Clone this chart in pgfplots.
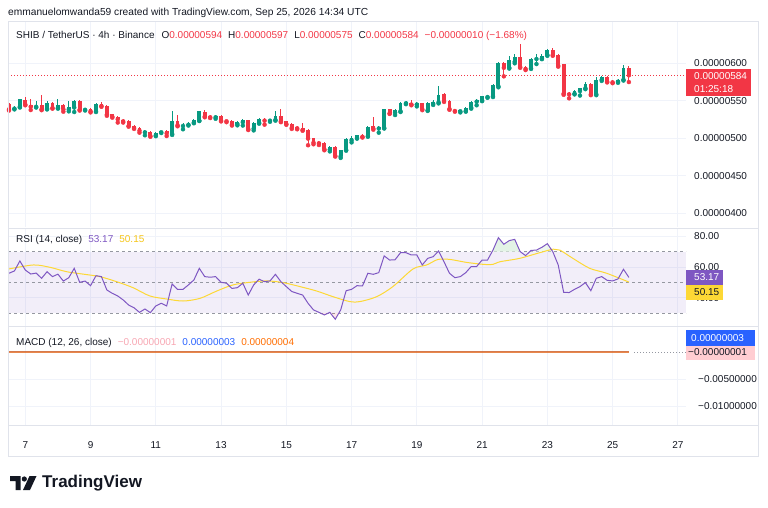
\documentclass[border=0pt]{standalone}
\usepackage{fontspec}
\setmainfont{Liberation Sans}
\usepackage{pgfplots}
\pgfplotsset{compat=1.18}
\usepackage{pgfplotstable}

\definecolor{cred}{HTML}{F23645}
\definecolor{cgreen}{HTML}{089981}
\definecolor{cpurple}{HTML}{7E57C2}
\definecolor{cyellow}{HTML}{FDD835}
\definecolor{cyellowtxt}{HTML}{F5C518}
\definecolor{ctext}{HTML}{131722}
\definecolor{cgrid}{HTML}{F0F3FA}
\definecolor{cborder}{HTML}{E0E3EB}
\definecolor{cblue}{HTML}{2962FF}
\definecolor{corange}{HTML}{FF6D00}
\definecolor{cpink}{HTML}{FFCDD2}
\definecolor{cpinktxt}{HTML}{F7A6B2}
\definecolor{cdash}{HTML}{9598A1}
\definecolor{cgreenfill}{HTML}{E3F3E6}

% candles: i open high low close (price in units of 0.00000001)
\pgfplotstableread{
i o h l c
1 539.5 543 538.5 542
2 542 553 541 552
5 542 549.3 541 543.3
7 539.5 549.3 538.5 546.6
9 540.4 552 539.5 544
11 538.6 550.1 535.9 542
12 541 551 535 550
14 538 541 537 539.5
16 536 547 535 545.7
25 508 510.5 504 509.5
27 503.9 508.5 502.8 507.5
28 508 510 507 509.3
30 505.7 535.9 504.5 522.6
32 516.4 520 512 518
33 518 522 517 520.8
34 521 525.5 520 524.4
35 523.5 537 523 535.9
38 528 531 526 529.7
42 519 522.5 517.3 521.8
43 521.5 525.5 517 524.4
45 512.9 522 510.5 520.9
46 520.5 527 519.5 526.2
48 523.5 525 522 524.8
49 524.4 536 523.5 529.8
59 485 490 482.5 489
61 476 485 473.8 484.4
62 484.4 500 483.5 498.7
63 497.5 503 494.5 500.5
64 500.5 505 499.5 504
66 503 516.5 502 515.5
68 513 516.5 507.5 515.5
69 513.8 539.5 513 538.7
71 534 539.5 531 538
72 536 548.5 535 546.7
73 546.7 550 545.5 548
75 545 548.5 542.5 546.7
77 537.3 548 536.5 547
78 546 550.5 544.5 548.8
79 548 569.3 546.5 557.7
83 536 538 534.5 537.3
84 536.4 542 535.5 540.8
85 540.8 550 539.5 548.8
86 548.8 552 544 550.6
87 550.6 557 549.5 556
88 555 558 554 556.8
89 556 572 555 571
90 569.3 601.5 568 600.4
92 594 610 593 604.8
93 602.1 612 600 608.4
96 593.3 607 592.5 605.7
97 605.7 612 599 607
98 606.6 613 605.5 610
99 611 619.5 610 618.2
104 559.5 564 558.5 563
105 563 567.5 557 566.6
106 566.6 575 565.5 572.8
108 558.6 582 557.5 578
109 578 583 576.5 581.7
112 575.5 579 574 578
113 578 597.3 577 593.3
}\greenC

\pgfplotstableread{
i o h l c
0 545.7 547 537 538.6
3 551 555.5 544 545
4 545 551.9 537.7 542
6 544 557.3 537.5 538.6
8 546.6 548 539.5 540.4
10 544 545.5 535.5 538.6
13 550 551 537 538
15 539.5 541 534.5 536
17 545.7 548 542 543
18 543 544 530 531.5
19 532 533 527.5 528.8
20 528.8 529.5 521 525.3
21 524.3 525.5 521 522.6
22 522.6 524 515.5 516.4
23 517 518 512.5 513.7
24 514 515 507.5 510.2
26 508.4 509.5 502 503
29 510 511 503 506.6
31 522.6 531.5 516 517.3
36 535 537.5 528 529
37 529.7 530.5 527 528
39 529.7 531 522.5 523.5
40 524.4 525 521.5 522.7
41 523.5 524.5 517 518.2
44 524.4 525 511 512
47 526.2 527 518.2 523.5
50 529.8 539.5 521.5 522.7
51 522.7 523.5 518 519
52 519 520 512.5 513.8
53 515 516 512 513.3
54 513.8 520.9 510 511
55 511 512 490.7 499.6
56 500 501 492 494.2
57 495 496.5 491 493.3
58 493.3 494.5 484 485.3
60 489 490 475.6 476.5
65 505 506 501 502
67 516.5 528.9 511.5 512.9
70 538.7 539.5 532.5 533.3
74 547.6 550.5 544 545
76 546.7 547.5 537.5 538.7
80 558.6 560 548.5 549.7
81 549.7 550.5 538 539
82 538 539 535.5 536.4
91 601 602 582.6 594
94 608.4 626.1 594 595
95 595 596 591 592.4
100 618.2 620 610 611
101 611 612 595.5 596.8
102 598.6 599.5 558 559.5
103 561 562 553.3 558.6
107 572.8 574 557.5 558.6
110 581.7 583 574.5 575.5
111 577 578 573.5 574.6
114 594 597 575 584
}\redC

\pgfplotstableread{
i r
0 55.9
1 57.4
2 63.9
3 58
4 55.4
5 56
6 52.6
7 56.9
8 53.7
9 55.3
10 50.8
11 53
12 59.1
13 50
14 50.8
15 47.8
16 54.3
17 53.7
18 45
19 42.8
20 41.1
21 38.5
22 35.2
23 33.4
24 30.4
25 32.6
26 30.2
27 34.6
28 36.3
29 34.6
30 48.9
31 45.4
32 45.4
33 48.3
34 51.5
35 59.1
36 53.7
37 53.3
38 53.7
39 50
40 49.4
41 46
42 46.5
43 49.4
44 41.7
45 48.3
46 52
47 50.4
48 50.9
49 55.2
50 50.4
51 47.2
52 44
53 42.8
54 41.7
55 36.3
56 32
57 30.4
58 28.7
59 30.4
60 25.9
61 32
62 44.5
63 45.4
64 47.8
65 47.6
66 55.9
67 55.2
68 56.3
69 67.2
70 64.5
71 64.7
72 69.3
73 69.3
74 67.8
75 67.8
76 61.3
77 65.6
78 66.7
79 70.4
80 63.4
81 55.9
82 53
83 53.7
84 56.3
85 60.3
86 60.3
87 64.5
88 64.5
89 71
90 79.1
91 74.8
92 77.2
93 78
94 70
95 67.4
96 70.8
97 71
98 72.8
99 75.2
100 70
101 61.3
102 43.5
103 43.3
104 45.4
105 47.2
106 49.8
107 44.5
108 52.6
109 53.7
110 51.3
111 50.9
112 52.2
113 58.5
114 53.17
}\rsiT

\pgfplotstableread{
i m
0 58.7
4.5 61.3
7.5 59.8
10.6 56.9
13.7 55.3
16.7 53.7
19.8 50.4
22.8 46.5
25.9 41.1
29 39.1
32 37.8
35.1 39.5
38.2 44.3
41.2 48.3
44.3 50
47.4 50.9
50.4 49.8
53.5 47.2
56.6 44.3
59.6 40.6
62.7 37.4
64.5 37.4
67.6 40.6
70.6 47.2
74.3 58.7
76.8 61.3
78.9 64.9
81.1 64.9
84.1 63
87.2 61.7
89 61.7
90.3 63.4
93.9 65.6
97.6 69.3
100.1 71.6
101.3 71
103.7 65.6
106.8 59.1
109.9 55.9
114 50.15
}\maT

\pgfplotsset{
  pane/.style={
    anchor=north west, scale only axis, width=678bp,
    xmin=-0.18, xmax=124.5,
    xtick={3,15,27,39,51,63,75,87,99,111,123},
    xmajorgrids, ymajorgrids,
    major grid style={draw=cgrid, line width=0.8bp},
    axis line style={draw=none},
    major tick length=0pt,
    yticklabel pos=right,
    yticklabel style={anchor=west, inner sep=0pt, xshift=8bp,
      font=\fontsize{10bp}{12bp}\selectfont, text=ctext},
    scaled y ticks=false,
  },
  candlewick/.style={only marks, mark=none, forget plot,
    error bars/.cd, y dir=plus, y explicit, error mark=none,
    error bar style={line width=0.9bp}},
  candlebody/.style={only marks, mark=none, forget plot,
    error bars/.cd, y dir=plus, y explicit, error mark=none,
    error bar style={line width=3.8bp}},
}

\begin{document}
\begin{tikzpicture}
\useasboundingbox (0,0) rectangle (768bp,-508bp);

% header
\node[anchor=west, inner sep=0pt, text=ctext, font=\fontsize{10.2bp}{12bp}\selectfont]
  at (8bp,-13.3bp) {emmanuelomwanda59 created with TradingView.com, Sep 25, 2026 14:34 UTC};

% ---------- price pane ----------
\begin{axis}[pane, at={(8bp,-21bp)}, height=206bp,
  ymin=381.7, ymax=656.4,
  ytick={400,450,500,550,600},
  yticklabels={0.00000400,0.00000450,0.00000500,0.00000550,0.00000600},
  xticklabels={}]
\draw[cred, line width=0.8bp, dash pattern=on 1bp off 2bp]
  (axis cs:-0.18,584) -- (axis cs:124.5,584);
\addplot[cgreen, candlewick] table[x=i, y=l, y error plus expr=\thisrow{h}-\thisrow{l}] {\greenC};
\addplot[cred, candlewick] table[x=i, y=l, y error plus expr=\thisrow{h}-\thisrow{l}] {\redC};
\addplot[cgreen, candlebody] table[x=i, y=o, y error plus expr=\thisrow{c}-\thisrow{o}] {\greenC};
\addplot[cred, candlebody] table[x=i, y=c, y error plus expr=\thisrow{o}-\thisrow{c}] {\redC};
\end{axis}

\node[anchor=west, inner sep=0pt, text=ctext, font=\fontsize{10bp}{12bp}\selectfont]
  at (16bp,-35.7bp) {SHIB / TetherUS · 4h · Binance\hspace{7bp}O\textcolor{cred}{0.00000594}\hspace{6bp}H\textcolor{cred}{0.00000597}\hspace{6bp}L\textcolor{cred}{0.00000575}\hspace{6bp}C\textcolor{cred}{0.00000584}\hspace{6bp}\textcolor{cred}{−0.00000010 (−1.68\%)}};

\fill[cred] (686bp,-69bp) rectangle (751bp,-96bp);
\node[anchor=west, inner sep=0pt, text=white, font=\fontsize{10bp}{12bp}\selectfont] at (694bp,-76bp) {0.00000584};
\node[anchor=west, inner sep=0pt, text=white, font=\fontsize{10bp}{12bp}\selectfont] at (694bp,-89bp) {01:25:18};

% ---------- RSI pane ----------
\begin{axis}[pane, at={(8bp,-228bp)}, height=98bp,
  ymin=21.5, ymax=85.4,
  ytick={40,60,80}, yticklabels={40.00,60.00,80.00},
  xticklabels={}]
\fill[cpurple, fill opacity=0.1] (axis cs:-0.18,30) rectangle (axis cs:124.5,70);
\draw[cdash, line width=0.8bp, dash pattern=on 3bp off 3bp] (axis cs:-0.18,70) -- (axis cs:124.5,70);
\draw[cdash, line width=0.8bp, dash pattern=on 3bp off 3bp] (axis cs:-0.18,50) -- (axis cs:124.5,50);
\draw[cdash, line width=0.8bp, dash pattern=on 3bp off 3bp] (axis cs:-0.18,30) -- (axis cs:124.5,30);
\addplot[fill=cgreenfill, draw=none, forget plot] coordinates {(88.85,70) (89,71) (90,79.1) (91,74.8) (92,77.2) (93,78) (94,70)};
\addplot[fill=cgreenfill, draw=none, forget plot, fill opacity=0.6] coordinates {(95.77,70) (96,70.8) (97,71) (98,72.8) (99,75.2) (100,70)};
\addplot[fill=cred, fill opacity=0.12, draw=none, forget plot] coordinates {(57.24,30) (58,28.7) (58.76,30)};
\addplot[fill=cred, fill opacity=0.12, draw=none, forget plot] coordinates {(59.09,30) (60,25.9) (60.67,30)};
\addplot[cyellow, line width=1bp, smooth] table[x=i, y=m] {\maT};
\addplot[cpurple, line width=1bp] table[x=i, y=r] {\rsiT};
\end{axis}

\node[anchor=west, inner sep=0pt, text=ctext, font=\fontsize{10bp}{12bp}\selectfont]
  at (16bp,-240bp) {RSI (14, close)\hspace{6bp}\textcolor{cpurple}{53.17}\hspace{6bp}\textcolor{cyellowtxt}{50.15}};

\fill[cpurple] (686bp,-270bp) rectangle (723bp,-284.5bp);
\node[anchor=west, inner sep=0pt, text=white, font=\fontsize{10bp}{12bp}\selectfont] at (694bp,-277.2bp) {53.17};
\fill[cyellow] (686bp,-285bp) rectangle (723bp,-299.5bp);
\node[anchor=west, inner sep=0pt, text=ctext, font=\fontsize{10bp}{12bp}\selectfont] at (694bp,-292.2bp) {50.15};

% ---------- MACD pane ----------
\begin{axis}[pane, at={(8bp,-326bp)}, height=99bp,
  ymin=-0.01352, ymax=0.00481,
  ytick={-0.01,-0.005}, yticklabels={−0.01000000,−0.00500000},
  yticklabel style={xshift=4bp},
  xticklabels={7,9,11,13,15,17,19,21,23,25,27},
  xticklabel style={anchor=center, inner sep=0pt, yshift=-20bp,
    font=\fontsize{10bp}{12bp}\selectfont, text=ctext}]
\draw[cdash, line width=0.8bp, dash pattern=on 1bp off 2bp]
  (axis cs:115,0) -- (axis cs:124.5,0);
\addplot[cblue, line width=1bp] coordinates {(0,0.00000002) (57,0.00000001) (114,0.00000003)};
\addplot[corange, line width=1.6bp, opacity=0.7] coordinates {(0,0.00000002) (57,0.00000001) (114,0.00000004)};
\end{axis}

\node[anchor=west, inner sep=0pt, text=ctext, font=\fontsize{10bp}{12bp}\selectfont]
  at (16bp,-342.7bp) {MACD (12, 26, close)\hspace{6bp}\textcolor{cpinktxt}{−0.00000001}\hspace{6bp}\textcolor{cblue}{0.00000003}\hspace{6bp}\textcolor{corange}{0.00000004}};

\fill[cblue] (686bp,-330bp) rectangle (755bp,-345.5bp);
\node[anchor=west, inner sep=0pt, text=white, font=\fontsize{10bp}{12bp}\selectfont] at (691bp,-337.8bp) {0.00000003};
\fill[cpink] (686bp,-345.5bp) rectangle (755bp,-359.5bp);
\node[anchor=west, inner sep=0pt, text=ctext, font=\fontsize{10bp}{12bp}\selectfont] at (688bp,-352.5bp) {−0.00000001};

% ---------- frame ----------
\draw[cborder, line width=0.8bp] (8bp,-21bp) rectangle (758bp,-456bp);
\draw[cborder, line width=0.8bp] (8bp,-228bp) -- (758bp,-228bp);
\draw[cborder, line width=0.8bp] (8bp,-326bp) -- (758bp,-326bp);
\draw[cborder, line width=0.8bp] (8bp,-425bp) -- (758bp,-425bp);

% ---------- logo ----------
\fill[ctext] (10bp,-476bp) -- (20.5bp,-476bp) -- (20.5bp,-490bp) -- (15.5bp,-490bp) -- (15.5bp,-481bp) -- (10bp,-481bp) -- cycle;
\fill[ctext] (24.3bp,-479bp) circle (2.6bp);
\fill[ctext] (29.5bp,-476bp) -- (36.5bp,-476bp) -- (30bp,-490bp) -- (23bp,-490bp) -- cycle;
\node[anchor=west, inner sep=0pt, text=ctext, font=\fontsize{17bp}{20bp}\selectfont\bfseries]
  at (42bp,-482.7bp) {TradingView};
\end{tikzpicture}
\end{document}
